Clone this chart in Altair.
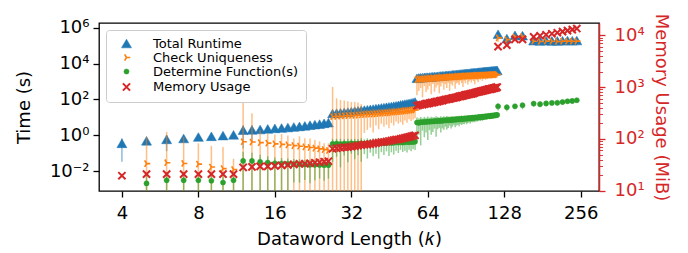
import altair as alt
import pandas as pd

# ---------------- data ----------------
k_dense = list(range(4, 121))
k_sparse = [121, 131, 141, 151, 167, 177, 187, 197, 207, 217, 227, 237, 247]
series_names = ["Total Runtime", "Check Uniqueness", "Determine Function(s)", "Memory Usage"]
series_colors = ["#1f77b4", "#ff7f0e", "#2ca02c", "#d62728"]

# log10 of the mean (seconds, or MiB for memory); order: k_dense then k_sparse
total_runtime_log10 = [
    -0.44, -0.30, -0.22, -0.17, -0.09, -0.05, -0.01, 0.03,
    0.29, 0.31, 0.33, 0.36, 0.39, 0.41, 0.44, 0.47, 0.50, 0.53, 0.57, 0.60, 0.63, 0.67, 0.71,
    1.22, 1.24, 1.26, 1.28, 1.30, 1.32, 1.35, 1.37, 1.39,
    1.41, 1.43, 1.45, 1.47, 1.49, 1.51, 1.53, 1.55, 1.57,
    1.59, 1.61, 1.63, 1.65, 1.67, 1.70, 1.72, 1.74, 1.76,
    1.78, 1.80, 1.83, 1.86,
    3.18, 3.20, 3.21, 3.22, 3.23, 3.24, 3.24, 3.25, 3.26,
    3.27, 3.28, 3.28, 3.29, 3.30, 3.31, 3.32, 3.32, 3.33,
    3.34, 3.35, 3.35, 3.36, 3.37, 3.38, 3.38, 3.39, 3.40,
    3.41, 3.41, 3.42, 3.43, 3.44, 3.44, 3.45, 3.46, 3.46,
    3.47, 3.48, 3.48, 3.49, 3.50, 3.50, 3.51, 3.52, 3.52,
    3.53, 3.53, 3.54, 3.55, 3.55, 3.56, 3.56, 3.57, 3.57,
    3.58, 3.58, 3.59, 3.59, 3.60, 3.60, 3.61, 3.61, 3.62,
    5.63, 5.39, 5.57, 5.55, 5.27, 5.26, 5.27, 5.26, 5.26, 5.27, 5.28, 5.27, 5.28,
]
total_runtime_err = [
    0.28, 0.08, 0.25, 0.10, 0.06, 0.05, 0.05, 0.05,
    0.28, 0.25, 0.06, 0.05, 0.05, 0.05, 0.04, 0.04, 0.05, 0.04, 0.04, 0.04, 0.05, 0.04, 0.04,
    0.12, 0.10, 0.10, 0.08, 0.08, 0.06, 0.06, 0.05, 0.05,
    0.05, 0.04, 0.05, 0.04, 0.04, 0.05, 0.04, 0.04, 0.05,
    0.04, 0.04, 0.05, 0.04, 0.04, 0.05, 0.04, 0.04, 0.05,
    0.04, 0.04, 0.05, 0.04,
    0.08, 0.07, 0.06, 0.05, 0.06, 0.05, 0.05, 0.06, 0.05,
    0.05, 0.04, 0.05, 0.05, 0.04, 0.05, 0.05, 0.04, 0.05,
    0.05, 0.04, 0.05, 0.04, 0.05, 0.05, 0.04, 0.05, 0.04,
    0.05, 0.04, 0.05, 0.04, 0.05, 0.04, 0.04, 0.05, 0.04,
    0.05, 0.04, 0.04, 0.05, 0.04, 0.04, 0.05, 0.04, 0.04,
    0.04, 0.05, 0.04, 0.04, 0.04, 0.05, 0.04, 0.04, 0.04,
    0.05, 0.04, 0.04, 0.04, 0.05, 0.04, 0.04, 0.04, 0.04,
    0.10, 0.08, 0.07, 0.07, 0.05, 0.05, 0.05, 0.05, 0.05, 0.05, 0.05, 0.05, 0.05,
]

check_uniqueness_log10 = [
    None, -1.57, -1.52, -1.56, -1.60, -1.76, -1.85, -1.90,
    -0.35, -0.37, -0.40, -0.43, -0.47, -0.50, -0.53, -0.57, -0.60, -0.64, -0.67, -0.71, -0.75, -0.79, -0.84,
    1.05, 1.06, 1.07, 1.09, 1.10, 1.11, 1.12, 1.13, 1.14,
    1.16, 1.17, 1.18, 1.19, 1.20, 1.21, 1.23, 1.24, 1.25,
    1.26, 1.27, 1.29, 1.30, 1.31, 1.32, 1.34, 1.35, 1.36,
    1.37, 1.39, 1.40, 1.42,
    3.10, 3.13, 3.11, 3.14, 3.13, 3.16, 3.14, 3.17, 3.15,
    3.18, 3.17, 3.19, 3.18, 3.21, 3.19, 3.22, 3.20, 3.23,
    3.22, 3.24, 3.23, 3.25, 3.24, 3.26, 3.25, 3.27, 3.26,
    3.28, 3.27, 3.29, 3.28, 3.30, 3.29, 3.31, 3.30, 3.32,
    3.31, 3.32, 3.31, 3.33, 3.32, 3.34, 3.33, 3.34, 3.33,
    3.35, 3.34, 3.35, 3.36, 3.35, 3.36, 3.36, 3.37, 3.36,
    3.37, 3.37, 3.38, 3.37, 3.38, 3.38, 3.39, 3.38, 3.39,
    5.43, 5.33, 5.48, 5.50, 5.24, 5.23, 5.25, 5.24, 5.23, 5.25, 5.25, 5.24, 5.25,
]
check_uniqueness_err = [
    None, 1.49, 1.72, 1.48, 1.16, 1.18, 1.20, 0.60,
    2.31, 1.60, 0.70, 0.56, 0.52, 0.58, 0.52, 0.40, 0.55, 0.48, 0.50, 0.45, 0.42, 0.35, 0.40,
    1.65, 1.00, 0.90, 0.85, 0.80, 0.75, 0.75, 0.70, 0.60,
    0.28, 0.27, 0.26, 0.28, 0.25, 0.27, 0.24, 0.26, 0.25,
    0.27, 0.24, 0.26, 0.23, 0.25, 0.24, 0.26, 0.23, 0.25,
    0.22, 0.24, 0.23, 0.22,
    0.27, 0.25, 0.22, 0.28, 0.20, 0.26, 0.24, 0.21, 0.27,
    0.18, 0.26, 0.23, 0.20, 0.27, 0.22, 0.18, 0.25, 0.20,
    0.24, 0.18, 0.26, 0.20, 0.22, 0.16, 0.25, 0.20, 0.18,
    0.22, 0.15, 0.20, 0.24, 0.16, 0.20, 0.14, 0.22, 0.18,
    0.15, 0.20, 0.14, 0.18, 0.22, 0.14, 0.16, 0.20, 0.13,
    0.16, 0.12, 0.18, 0.14, 0.12, 0.16, 0.13, 0.15, 0.12,
    0.14, 0.12, 0.15, 0.12, 0.13, 0.11, 0.14, 0.12, 0.12,
    0.15, 0.12, 0.12, 0.12, 0.05, 0.05, 0.05, 0.05, 0.05, 0.05, 0.05, 0.05, 0.05,
]

determine_function_log10 = [
    None, -2.67, -2.50, -2.50, -2.50, -2.52, -2.62, -2.50,
    -1.42, -1.42, -1.47, -1.51, -1.55, -1.56, -1.58, -1.60, -1.61, -1.62, -1.64, -1.64, -1.65, -1.66, -1.66,
    -0.47, -0.45, -0.48, -0.46, -0.47, -0.44, -0.46, -0.45, -0.44,
    -0.46, -0.43, -0.44, -0.42, -0.44, -0.43, -0.41, -0.43, -0.42,
    -0.40, -0.42, -0.41, -0.39, -0.40, -0.38, -0.40, -0.38, -0.37,
    -0.38, -0.36, -0.37, -0.35,
    0.72, 0.70, 0.74, 0.73, 0.76, 0.74, 0.77, 0.76, 0.78,
    0.77, 0.80, 0.79, 0.81, 0.80, 0.82, 0.81, 0.84, 0.83,
    0.85, 0.84, 0.86, 0.85, 0.87, 0.88, 0.87, 0.89, 0.90,
    0.89, 0.91, 0.92, 0.91, 0.93, 0.94, 0.93, 0.95, 0.96,
    0.95, 0.97, 0.98, 0.97, 0.99, 1.00, 0.99, 1.01, 1.02,
    1.01, 1.03, 1.04, 1.03, 1.05, 1.06, 1.05, 1.07, 1.08,
    1.07, 1.09, 1.10, 1.09, 1.11, 1.12, 1.11, 1.13, 1.14,
    1.62, 1.57, 1.62, 1.68, 1.77, 1.74, 1.78, 1.81, 1.82, 1.86, 1.90, 1.92, 1.96,
]
determine_function_err = [
    None, 0.40, 0.45, 0.45, 0.42, 0.40, 0.35, 0.45,
    0.51, 0.45, 0.40, 0.35, 0.32, 0.30, 0.30, 0.28, 0.28, 0.27, 0.28, 0.27, 0.26, 0.27, 0.26,
    0.28, 0.26, 0.29, 0.25, 0.28, 0.24, 0.27, 0.25, 0.28,
    0.24, 0.27, 0.23, 0.26, 0.24, 0.27, 0.23, 0.25, 0.22,
    0.26, 0.23, 0.25, 0.22, 0.24, 0.21, 0.23, 0.22, 0.24,
    0.21, 0.23, 0.20, 0.22,
    0.28, 0.25, 0.29, 0.22, 0.27, 0.24, 0.28, 0.22, 0.26,
    0.24, 0.21, 0.27, 0.22, 0.20, 0.25, 0.21, 0.23, 0.19,
    0.23, 0.21, 0.18, 0.22, 0.20, 0.17, 0.21, 0.19, 0.18,
    0.20, 0.17, 0.19, 0.16, 0.18, 0.15, 0.18, 0.16, 0.15,
    0.17, 0.15, 0.16, 0.14, 0.16, 0.13, 0.15, 0.14, 0.13,
    0.14, 0.13, 0.15, 0.12, 0.13, 0.12, 0.13, 0.11, 0.12,
    0.12, 0.11, 0.13, 0.10, 0.12, 0.10, 0.11, 0.10, 0.10,
    0.15, 0.15, 0.12, 0.15, 0.12, 0.12, 0.12, 0.10, 0.12, 0.12, 0.10, 0.12, 0.10,
]

memory_usage_log10 = [
    1.29, 1.32, 1.32, 1.32, 1.32, 1.32, 1.32, 1.32,
    1.45, 1.46, 1.47, 1.47, 1.48, 1.49, 1.50, 1.51, 1.52, 1.52, 1.53, 1.54, 1.55, 1.56, 1.57,
    1.81, 1.82, 1.83, 1.84, 1.84, 1.85, 1.86, 1.87, 1.88,
    1.89, 1.89, 1.90, 1.91, 1.92, 1.93, 1.94, 1.94, 1.95,
    1.96, 1.97, 1.98, 1.99, 1.99, 2.00, 2.01, 2.02, 2.03,
    2.04, 2.05, 2.06, 2.07,
    2.64, 2.65, 2.66, 2.66, 2.67, 2.68, 2.68, 2.69, 2.70,
    2.70, 2.71, 2.72, 2.72, 2.73, 2.74, 2.74, 2.75, 2.76,
    2.76, 2.77, 2.77, 2.78, 2.79, 2.79, 2.80, 2.80, 2.81,
    2.82, 2.82, 2.83, 2.83, 2.84, 2.85, 2.85, 2.86, 2.86,
    2.87, 2.87, 2.88, 2.88, 2.89, 2.90, 2.90, 2.91, 2.91,
    2.92, 2.92, 2.93, 2.93, 2.94, 2.94, 2.95, 2.95, 2.96,
    2.96, 2.96, 2.97, 2.97, 2.98, 2.98, 2.99, 2.99, 3.00,
    3.78, 3.81, 3.92, 3.92, 3.97, 3.99, 4.01, 4.03, 4.05, 4.07, 4.09, 4.11, 4.13,
]

x_ticks = [4, 8, 16, 32, 64, 128, 256]
time_ticks = [1e-2, 1, 1e2, 1e4, 1e6]
mem_ticks = [m * 10 ** p for p in (1, 2, 3) for m in range(1, 10)] + [1e4]

# ---------------- tables ----------------
all_k = k_dense + k_sparse


def table(name, logs, errs, floor):
    assert len(logs) == len(all_k), (name, len(logs))
    rows = []
    for i, (k, e) in enumerate(zip(all_k, logs)):
        if e is None:
            continue
        v = 10 ** e
        if errs is None:
            hi, lo = v, v
        else:
            u = errs[i]
            hi = 10 ** (e + u)
            lo = 2 * v - hi
            if lo <= 0:
                lo = floor
        rows.append({"series": name, "k": k, "val": v, "lo": lo, "hi": hi})
    return pd.DataFrame(rows)


for lst in (total_runtime_err, check_uniqueness_err, determine_function_err):
    assert len(lst) == len(all_k)

df_total = table(series_names[0], total_runtime_log10, total_runtime_err, 1e-4)
df_check = table(series_names[1], check_uniqueness_log10, check_uniqueness_err, 1e-4)
df_det = table(series_names[2], determine_function_log10, determine_function_err, 1e-4)
df_mem = table(series_names[3], memory_usage_log10, None, 1)

# ---------------- encodings ----------------
FONT = "DejaVu Sans"
RED = "#d62728"

tri_right = "M0,0L1,0M0,0L-0.5,-0.866M0,0L-0.5,0.866"
x_path = "M-1,-1L1,1M-1,1L1,-1"

color_scale = alt.Scale(domain=series_names, range=series_colors)
shape_scale = alt.Scale(domain=series_names, range=["triangle-up", tri_right, "circle", x_path])
size_scale = alt.Scale(type="ordinal", domain=series_names, range=[100, 55, 26, 52])
sw_scale = alt.Scale(type="ordinal", domain=series_names, range=[0.5, 1.6, 0.5, 2.0])

legend = alt.Legend(title=None, orient="none", legendX=7, legendY=7)

x_enc = alt.X(
    "k:Q",
    scale=alt.Scale(type="log", base=2, domain=[3.25, 302], nice=False),
    axis=alt.Axis(
        values=x_ticks, format="d", title="Dataword Length (𝑘)", labelFlush=False,
        labelOverlap=False, tickSize=6, tickWidth=1.3, tickColor="black", domain=False,
        labelPadding=7, titlePadding=8,
    ),
)

time_scale = alt.Scale(type="log", domain=[10 ** -3.094, 10 ** 6.256], nice=False)
e_expr = "round(log(datum.value)/LN10)"
time_axis = alt.Axis(
    title="Time (s)", values=time_ticks,
    labelExpr=(f"{e_expr} == -2 ? '10⁻²' : {e_expr} == 0 ? '10⁰' : {e_expr} == 2 ? '10²' : "
               f"{e_expr} == 4 ? '10⁴' : '10⁶'"),
    tickSize=6, tickWidth=1.3, tickColor="black", domain=False, labelPadding=4, titlePadding=16,
)

mem_scale = alt.Scale(type="log", domain=[10 ** 0.995, 10 ** 4.237], nice=False)
is_major = f"abs(log(datum.value)/LN10 - {e_expr}) < 0.01"
mem_axis = alt.Axis(
    title="Memory Usage (MiB)", orient="right", values=mem_ticks,
    labelExpr=(f"{is_major} ? ({e_expr} == 1 ? '10¹' : {e_expr} == 2 ? '10²' : "
               f"{e_expr} == 3 ? '10³' : '10⁴') : ''"),
    tickSize={"condition": {"test": is_major, "value": 6}, "value": 3.5},
    tickWidth={"condition": {"test": is_major, "value": 1.3}, "value": 0.9},
    tickColor=RED, labelColor=RED, titleColor=RED, domain=True, domainColor=RED,
    domainWidth=1.5, labelPadding=9, titlePadding=7,
)


def err_layer(df, color, scale, axis):
    return alt.Chart(df).mark_rule(color=color, opacity=0.5, strokeWidth=1.5, clip=True).encode(
        x=x_enc,
        y=alt.Y("lo:Q", scale=scale, axis=axis),
        y2="hi:Q",
    )


def pt_layer(df, scale, axis):
    return alt.Chart(df).mark_point(filled=True, opacity=1, clip=True).encode(
        x=x_enc,
        y=alt.Y("val:Q", scale=scale, axis=axis),
        fill=alt.Fill("series:N", scale=color_scale, legend=legend),
        stroke=alt.Stroke("series:N", scale=color_scale, legend=legend),
        shape=alt.Shape("series:N", scale=shape_scale, legend=legend),
        size=alt.Size("series:N", scale=size_scale, legend=legend),
        strokeWidth=alt.StrokeWidth("series:N", scale=sw_scale, legend=legend),
    )


left = alt.layer(
    err_layer(df_total, series_colors[0], time_scale, time_axis),
    pt_layer(df_total, time_scale, time_axis),
    err_layer(df_check, series_colors[1], time_scale, time_axis),
    pt_layer(df_check, time_scale, time_axis),
    err_layer(df_det, series_colors[2], time_scale, time_axis),
    pt_layer(df_det, time_scale, time_axis),
)
right = alt.layer(pt_layer(df_mem, mem_scale, mem_axis))

chart = (
    alt.layer(left, right)
    .resolve_scale(y="independent")
    .properties(
        width=500, height=168,
        autosize=alt.AutoSizeParams(type="none"),
        padding={"left": 91, "top": 15, "right": 80, "bottom": 59},
    )
    .configure_view(stroke="black", strokeWidth=1.3)
    .configure_axis(
        grid=False, labelFont=FONT, titleFont=FONT, labelFontSize=18, titleFontSize=18,
        labelColor="black", titleColor="black", titleFontWeight="normal",
    )
    .configure_legend(
        labelFont=FONT, labelFontSize=13, labelColor="black", padding=7, rowPadding=-0.5,
        symbolOffset=7, labelOffset=20, strokeColor="#cccccc", fillColor="white",
        cornerRadius=3, strokeWidth=1,
    )
)

chart.save("out.html", embed_options={"renderer": "svg", "actions": False})
